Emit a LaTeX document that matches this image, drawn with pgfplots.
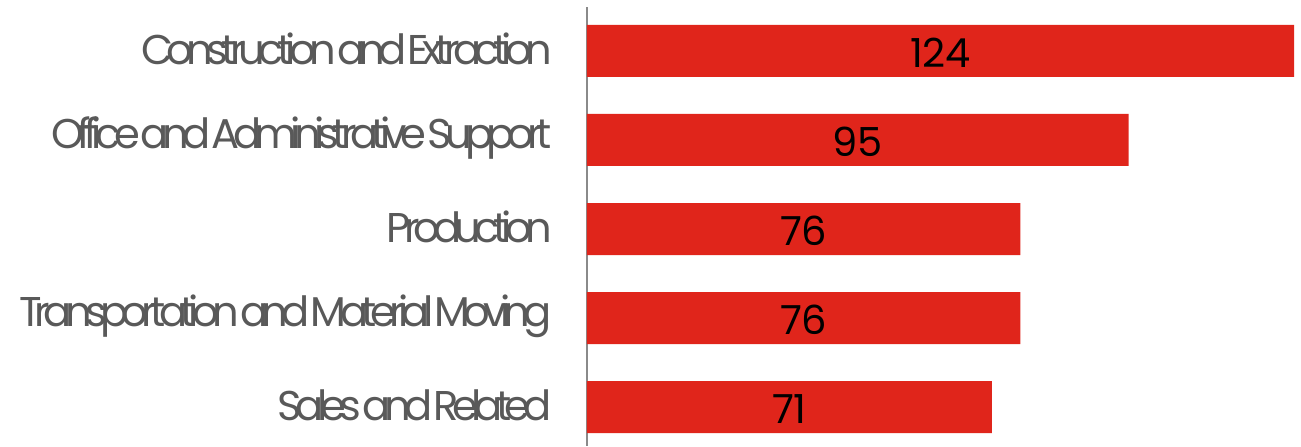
\documentclass[border=0pt]{standalone}
\usepackage{pgfplots}
\pgfplotsset{compat=1.18}
\usepackage{fontspec}
\setmainfont{Poppins}
\newfontfamily\labfont[LetterSpace=-16,WordSpace=0.25]{Poppins}
\definecolor{barred}{HTML}{E0251B}
\definecolor{labgray}{HTML}{595959}
\definecolor{axgray}{HTML}{8A8A8A}
\begin{document}
\begin{tikzpicture}
\begin{axis}[
  scale only axis,
  width=353.5pt, height=219.5pt,
  xmin=0, xmax=124,
  ymin=-0.494, ymax=4.438,
  y dir=reverse,
  axis x line=none,
  axis y line=left,
  axis line style={-, draw=axgray, line width=1pt},
  ytick={0,1,2,3,4},
  yticklabels={Construction and Extraction,Office and Administrative Support,Production,Transportation and Material Moving,Sales and Related},
  major tick length=0pt,
  yticklabel style={font=\labfont\fontsize{20.8}{24}\selectfont, text=labgray, anchor=east, xshift=-14pt, yshift=1pt},
  /pgf/number format/assume math mode=true,
  clip=false,
]
\addplot[xbar, bar width=26pt, fill=barred, draw=none] coordinates {(124,0) (95,1) (76,2) (76,3) (71,4)};
\addplot[draw=none, mark=none, nodes near coords, point meta=explicit,
  every node near coord/.style={anchor=center, font=\fontsize{20}{24}\selectfont, text=black, yshift=-1pt}]
  coordinates {(62,0) [124] (47.5,1) [95] (38,2) [76] (38,3) [76] (35.5,4) [71]};
\end{axis}
\pgfresetboundingbox
\path[use as bounding box] ([xshift=-293.5pt]current axis.south west) rectangle ([xshift=3.5pt,yshift=3.5pt]current axis.north east);
\end{tikzpicture}
\end{document}
